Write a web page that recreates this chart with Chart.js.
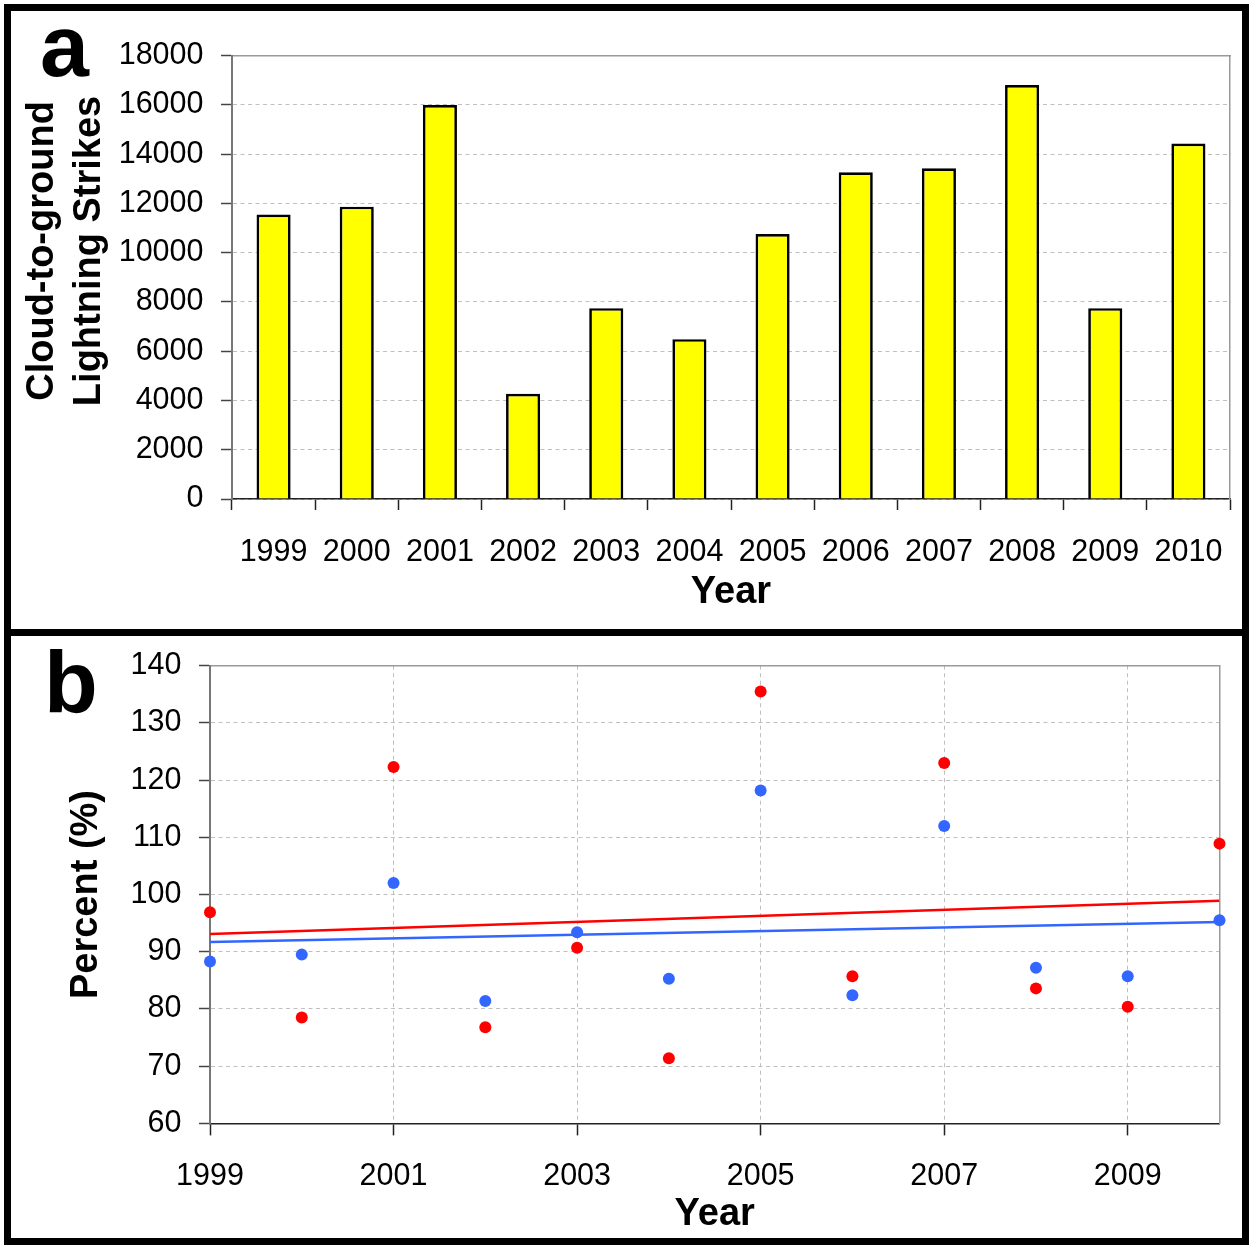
<!DOCTYPE html>
<html><head><meta charset="utf-8">
<script src="https://cdn.jsdelivr.net/npm/chart.js@4.4.1/dist/chart.umd.min.js"></script>
<style>
html,body{margin:0;padding:0;background:#fff;}
body{width:1250px;height:1245px;position:relative;overflow:hidden;font-family:'Liberation Sans',Arial,sans-serif;}
.panel{position:absolute;box-sizing:border-box;border:7px solid #000;left:4px;width:1245px;}
#pa{top:4px;height:632px;}
#pb{top:629px;height:616px;}
.lab{position:absolute;font-weight:bold;font-size:88px;line-height:88px;color:#000;}
canvas{position:absolute;}
</style></head><body>
<div class="panel" id="pa"></div>
<div class="panel" id="pb"></div>
<canvas id="ca" width="1231" height="618" style="left:11px;top:11px"></canvas>
<canvas id="cb" width="1231" height="601" style="left:11px;top:636px"></canvas>
<div class="lab" style="left:40px;top:1.5px">a</div>
<div class="lab" style="left:44px;top:637.5px">b</div>
<script>
// ---- data ----
const years = ['1999','2000','2001','2002','2003','2004','2005','2006','2007','2008','2009','2010'];
const strikes = [11550, 11870, 16000, 4270, 7750, 6490, 10760, 13270, 13430, 16810, 7750, 14430];
const strikeTicks = [0, 2000, 4000, 6000, 8000, 10000, 12000, 14000, 16000, 18000];

const redPct  = [96.9, 78.5, 122.3, 76.8, 90.7, 71.4, 135.5, 85.7, 123.0, 83.6, 80.4, 108.9];
const bluePct = [88.3, 89.5, 102.0, 81.4, 93.4, 85.3, 118.2, 82.4, 112.0, 87.2, 85.7, 95.5];
const trendYears = [1999, 2010];
const redTrend  = [93.1, 98.9];
const blueTrend = [91.7, 95.2];
const percentTicks = [60, 70, 80, 90, 100, 110, 120, 130, 140];
const yearTicksB = [1999, 2001, 2003, 2005, 2007, 2009];

// ---- style ----
const FONT = "'Liberation Sans', Arial, sans-serif";
Chart.defaults.font.family = FONT;
Chart.defaults.color = '#000';
const XAXIS = '#222222';
const YAXIS = '#777777';
const YTICK = '#444444';
const GRID = '#bfbfbf';
const FRAME = '#9a9a9a';
const RED = '#ff0000';
const BLUE = '#3366ff';
const TICKFONT = {size: 30.5};
const TITLEFONT = {size: 38, weight: 'bold'};

const setTicks = arr => s => { s.ticks = arr.map(v => ({value: v})); };
const fitW = w => s => { s.width = w; s.paddingTop = 0; s.paddingBottom = 0; };
const fitH = h => s => { s.height = h; s.paddingLeft = 0; s.paddingRight = 0; };
const plain = v => String(v);

// ---- panel a ----
new Chart(document.getElementById('ca'), {
  type: 'bar',
  data: {
    labels: years,
    datasets: [{
      data: strikes, xAxisID: 'x', yAxisID: 'y',
      backgroundColor: '#ffff00', borderColor: '#000', borderWidth: 2.7,
      barPercentage: 0.41, categoryPercentage: 1
    }]
  },
  options: {
    responsive: false, animation: false, devicePixelRatio: 1,
    layout: {padding: {left: 0, right: 12, top: 44.7, bottom: 0}},
    plugins: {legend: {display: false}, tooltip: {enabled: false}},
    scales: {
      x: {
        position: 'bottom',
        grid: {offset: true, drawOnChartArea: false, drawTicks: true, tickLength: 11, tickColor: XAXIS, tickWidth: 1.5},
        border: {color: XAXIS, width: 1.5},
        ticks: {font: TICKFONT, padding: 24.5, color: '#000', maxRotation: 0, autoSkip: false},
        title: {display: true, text: 'Year', color: '#000', font: TITLEFONT, padding: {top: 0, bottom: 14}},
        afterFit: fitH(130)
      },
      xTop: {
        type: 'category', position: 'top',
        grid: {display: false}, ticks: {display: false},
        border: {color: FRAME, width: 1.5},
        afterFit: fitH(0)
      },
      y: {
        position: 'left', min: 0, max: 18000,
        afterBuildTicks: setTicks(strikeTicks),
        grid: {color: GRID, lineWidth: 1, tickColor: YTICK, tickWidth: 1.5, tickLength: 11, tickBorderDash: []},
        border: {color: YAXIS, width: 2, dash: [4, 3.5]},
        ticks: {font: TICKFONT, padding: 17.5, color: '#000', callback: plain},
        title: {
          display: true, color: '#000',
          text: ['\u00a0\u00a0\u00a0\u00a0\u00a0Cloud-to-ground', '\u00a0\u00a0\u00a0\u00a0\u00a0Lightning Strikes'],
          font: {size: 38, weight: 'bold', lineHeight: 1.245},
          padding: {top: 8, bottom: 0}
        },
        afterFit: fitW(221)
      },
      yRight: {
        position: 'right', min: 0, max: 18000,
        grid: {display: false}, ticks: {display: false},
        border: {color: FRAME, width: 1.5},
        afterFit: fitW(0)
      }
    }
  }
});

// ---- panel b ----
const pts = vals => years.map((y, i) => ({x: Number(y), y: vals[i]}));
const line = vals => trendYears.map((y, i) => ({x: y, y: vals[i]}));

new Chart(document.getElementById('cb'), {
  type: 'scatter',
  data: {
    datasets: [
      {data: pts(redPct), xAxisID: 'x', yAxisID: 'y', backgroundColor: RED, borderColor: RED,
       pointRadius: 6, pointBorderWidth: 0, clip: false, order: 1},
      {data: pts(bluePct), xAxisID: 'x', yAxisID: 'y', backgroundColor: BLUE, borderColor: BLUE,
       pointRadius: 6, pointBorderWidth: 0, clip: false, order: 1},
      {data: line(redTrend), xAxisID: 'x', yAxisID: 'y', showLine: true, borderColor: RED, backgroundColor: RED,
       borderWidth: 2.5, pointRadius: 0, order: 2},
      {data: line(blueTrend), xAxisID: 'x', yAxisID: 'y', showLine: true, borderColor: BLUE, backgroundColor: BLUE,
       borderWidth: 2.5, pointRadius: 0, order: 2}
    ]
  },
  options: {
    responsive: false, animation: false, devicePixelRatio: 1,
    layout: {padding: {left: 0, right: 22.5, top: 29.7, bottom: 0}},
    plugins: {legend: {display: false}, tooltip: {enabled: false}},
    scales: {
      x: {
        type: 'linear', position: 'bottom', min: 1999, max: 2010,
        afterBuildTicks: setTicks(yearTicksB),
        grid: {color: GRID, lineWidth: 1, tickColor: XAXIS, tickWidth: 1.5, tickLength: 12, tickBorderDash: []},
        border: {color: XAXIS, width: 1.5, dash: [4, 3.5]},
        ticks: {font: TICKFONT, padding: 22.6, color: '#000', maxRotation: 0, autoSkip: false, callback: plain},
        title: {display: true, text: 'Year', color: '#000', font: TITLEFONT, padding: {top: 0, bottom: 0}},
        afterFit: fitH(113.6)
      },
      xTop: {
        type: 'linear', position: 'top', min: 1999, max: 2010,
        grid: {display: false}, ticks: {display: false},
        border: {color: FRAME, width: 1.5},
        afterFit: fitH(0)
      },
      y: {
        type: 'linear', position: 'left', min: 60, max: 140,
        afterBuildTicks: setTicks(percentTicks),
        grid: {color: GRID, lineWidth: 1, tickColor: YTICK, tickWidth: 1.5, tickLength: 11, tickBorderDash: []},
        border: {color: YAXIS, width: 2, dash: [4, 3.5]},
        ticks: {font: TICKFONT, padding: 17.5, color: '#000', callback: plain},
        title: {display: true, text: 'Percent (%)', color: '#000', font: TITLEFONT, padding: {top: 53.2, bottom: 0}},
        afterFit: fitW(199)
      },
      yRight: {
        type: 'linear', position: 'right', min: 60, max: 140,
        grid: {display: false}, ticks: {display: false},
        border: {color: FRAME, width: 1.5},
        afterFit: fitW(0)
      }
    }
  }
});
</script>
</body></html>
